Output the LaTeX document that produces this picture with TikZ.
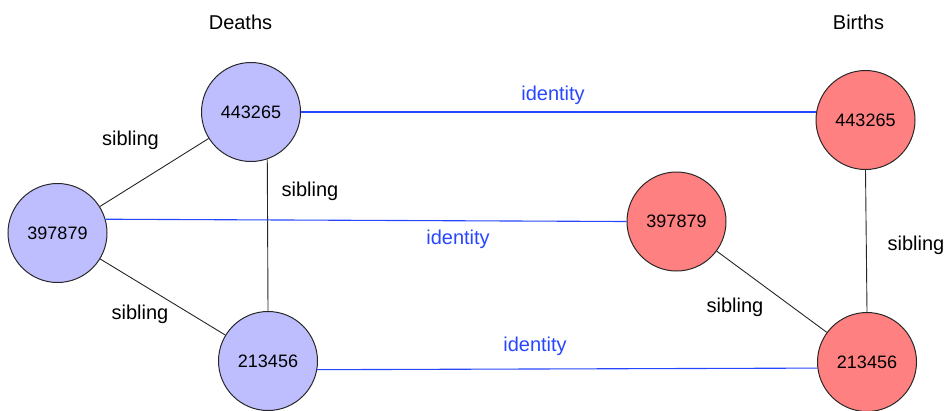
\documentclass[tikz,border=0pt]{standalone}
\usepackage{fontspec}
\setmainfont{Liberation Sans}
\definecolor{deathfill}{RGB}{190,190,255}
\definecolor{birthfill}{RGB}{255,128,128}
\definecolor{idblue}{RGB}{40,70,255}
\definecolor{ringcol}{RGB}{40,40,40}
\begin{document}
\begin{tikzpicture}[x=1pt,y=-1pt,
  person/.style={circle,draw=ringcol,line width=1pt,minimum size=99pt,inner sep=0pt,font=\fontsize{18}{18}\selectfont},
  dnode/.style={person,fill=deathfill},
  bnode/.style={person,fill=birthfill},
  sib/.style={draw=black!85,line width=0.9pt},
  ident/.style={draw=idblue,line width=1.1pt},
  lbl/.style={font=\fontsize{20}{20}\selectfont,inner sep=0pt},
  idlbl/.style={lbl,text=idblue}]
\useasboundingbox (0,0) rectangle (947,410);
\node[lbl] (deaths) at (240.5,22) {Deaths};
\node[lbl] (births) at (858.5,22) {Births};
\node[dnode] (d443) at (251,112) {443265};
\node[dnode] (d397) at (57.5,233) {397879};
\node[dnode] (d213) at (268,361) {213456};
\node[bnode] (b443) at (865.5,120) {443265};
\node[bnode] (b397) at (676.5,221.5) {397879};
\node[bnode] (b213) at (867,362) {213456};
% sibling edges
\draw[sib] (d443) -- (d397);
\draw[sib] (d397) -- (d213);
\draw[sib] (d443.-71) -- (d213.north);
\draw[sib] (b443.south) -- (b213.north);
\draw[sib] (b397) -- (b213);
% identity edges
\draw[ident] (d443.east) -- (d443.east -| b443.west);
\draw[ident] (d397.16) -- (b397.west);
\draw[ident] (d213.-10) -- (b213.187);
% labels
\node[idlbl] (id1) at (553,95) {identity};
\node[idlbl] (id2) at (458,239.5) {identity};
\node[idlbl] (id3) at (535,346.5) {identity};
\node[lbl] (s1) at (130.5,140.5) {sibling};
\node[lbl] (s2) at (310,191.5) {sibling};
\node[lbl] (s3) at (140,314) {sibling};
\node[lbl] (s4) at (735,307.5) {sibling};
\node[lbl] (s5) at (916,245.5) {sibling};
\end{tikzpicture}
\end{document}
